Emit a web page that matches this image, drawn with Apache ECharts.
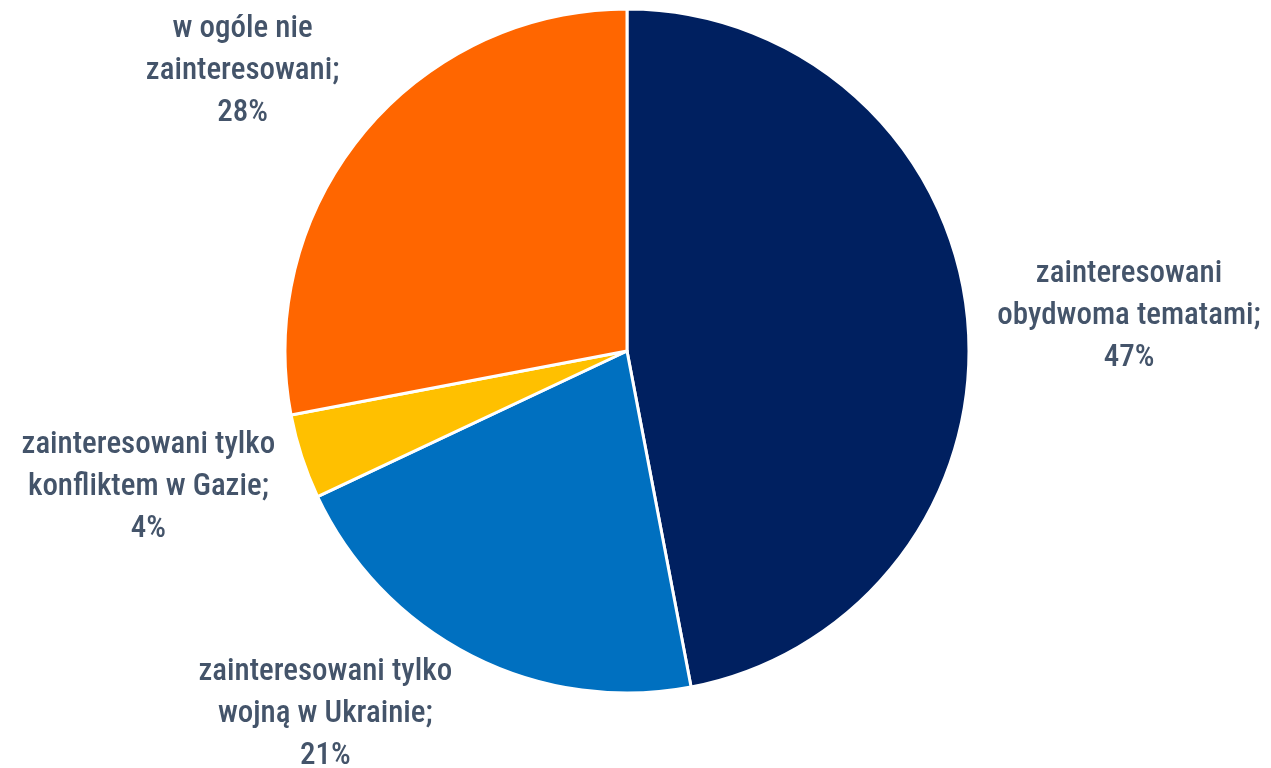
<!DOCTYPE html>
<html><head><meta charset="utf-8">
<script src="https://cdn.jsdelivr.net/npm/echarts@6/dist/echarts.min.js"></script>
<style>html,body{margin:0;padding:0;background:#fff}#c{width:1271px;height:768px}</style>
</head><body><div id="c"></div>
<script>
const categories = [
  'zainteresowani\nobydwoma tematami',
  'zainteresowani tylko\nwojną w Ukrainie',
  'zainteresowani tylko\nkonfliktem w Gazie',
  'w ogóle nie\nzainteresowani'
];
const values = [47, 21, 4, 28];
const colors = ['#002060', '#0070C0', '#FFC000', '#FF6600'];
const labelNudge = [[0, 0], [-6, 32], [2, 21], [-1, -43]];

const chart = echarts.init(document.getElementById('c'));
chart.setOption({
  animation: false,
  series: [{
    type: 'pie',
    center: [627, 351],
    radius: 342,
    startAngle: 90,
    clockwise: true,
    data: categories.map((n, i) => ({ name: n, value: values[i], itemStyle: { color: colors[i] } })),
    itemStyle: { borderColor: '#fff', borderWidth: 3 },
    label: {
      show: true,
      position: 'outside',
      formatter: p => p.name + ';\n' + p.value + '%',
      fontFamily: '"Roboto Condensed", "Liberation Sans Narrow", "DejaVu Sans Condensed", Roboto, sans-serif',
      fontSize: 31,
      fontWeight: 500,
      lineHeight: 42,
      color: '#44546A',
      distanceToLabelLine: 0
    },
    labelLine: { show: false, length: 30, length2: 0 },
    labelLayout: function (params) {
      const r = params.labelRect;
      const i = params.dataIndex;
      return {
        x: r.x + r.width / 2 + labelNudge[i][0],
        y: r.y + r.height / 2 + labelNudge[i][1],
        align: 'center',
        verticalAlign: 'middle'
      };
    }
  }]
});
</script></body></html>
